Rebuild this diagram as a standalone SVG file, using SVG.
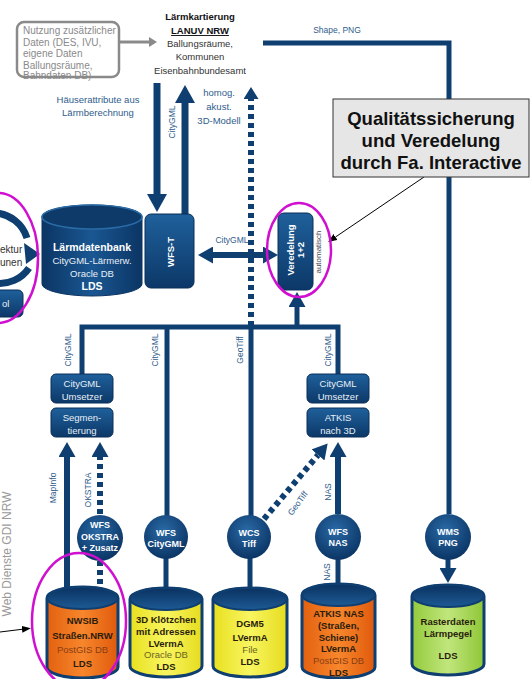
<svg xmlns="http://www.w3.org/2000/svg" width="531" height="679" viewBox="0 0 531 679">
<defs>
<style>
text{font-family:"Liberation Sans",Arial,sans-serif}
.c{stroke:#0f3e70;fill:none}
.w7{stroke-width:7}
.w6{stroke-width:6}
.w5{stroke-width:5}
.dot{stroke-dasharray:5 4}
.lbl{fill:#2f5d8c;font-size:8.5px}
.blu{fill:#2f5d8c;font-size:9.5px}
.wb{fill:#fff;font-weight:bold}
.wn{fill:#e8eff7;font-size:9.5px}
.box{fill:url(#gBox);stroke:#0a2f58;stroke-width:1}
.circ{fill:url(#gCirc)}
.cyl{stroke:#0f3e70;stroke-width:3}
.cyltop{fill:url(#gTop);stroke:#0f3e70;stroke-width:2}
.mag{fill:none;stroke:#d010d0;stroke-width:2.5}
.dk{fill:#2a1c0c;font-weight:bold;font-size:9.5px}
.ct{font-size:9px}
</style>
<linearGradient id="gBox" x1="0" y1="0" x2="0" y2="1"><stop offset="0" stop-color="#1f609b"/><stop offset="1" stop-color="#0c3868"/></linearGradient>
<radialGradient id="gCirc" cx="0.45" cy="0.35" r="0.65"><stop offset="0" stop-color="#2a6aa6"/><stop offset="1" stop-color="#0b3565"/></radialGradient>
<linearGradient id="gCylB" x1="0" y1="0" x2="1" y2="0"><stop offset="0" stop-color="#0b3564"/><stop offset="0.5" stop-color="#1a5792"/><stop offset="1" stop-color="#0b3564"/></linearGradient>
<linearGradient id="gOr" x1="0" y1="0" x2="1" y2="0"><stop offset="0" stop-color="#e3610f"/><stop offset="0.5" stop-color="#f7862c"/><stop offset="1" stop-color="#e05a0c"/></linearGradient>
<linearGradient id="gYe" x1="0" y1="0" x2="1" y2="0"><stop offset="0" stop-color="#e8e020"/><stop offset="0.5" stop-color="#f8f560"/><stop offset="1" stop-color="#e6dc1e"/></linearGradient>
<linearGradient id="gGr" x1="0" y1="0" x2="1" y2="0"><stop offset="0" stop-color="#94cb3c"/><stop offset="0.5" stop-color="#c0e67c"/><stop offset="1" stop-color="#8fc637"/></linearGradient>
<linearGradient id="gTop" x1="0" y1="0" x2="0" y2="1"><stop offset="0" stop-color="#0a3160"/><stop offset="1" stop-color="#1d5b95"/></linearGradient>
<marker id="ahL" markerUnits="userSpaceOnUse" markerWidth="18" markerHeight="20" viewBox="0 0 18 20" refX="0" refY="10" orient="auto"><path d="M0,0 L18,10 L0,20 z" fill="#0f3e70"/></marker>
<marker id="ahS" markerUnits="userSpaceOnUse" markerWidth="15" markerHeight="17" viewBox="0 0 15 17" refX="0" refY="8.5" orient="auto-start-reverse"><path d="M0,0 L15,8.5 L0,17 z" fill="#0f3e70"/></marker>
<marker id="ahD" markerUnits="userSpaceOnUse" markerWidth="12" markerHeight="15" viewBox="0 0 12 15" refX="0" refY="7.5" orient="auto"><path d="M0,0 L12,7.5 L0,15 z" fill="#0f3e70"/></marker>
<marker id="ahB" markerUnits="userSpaceOnUse" markerWidth="9" markerHeight="7" viewBox="0 0 9 7" refX="0" refY="3.5" orient="auto"><path d="M0,0 L9,3.5 L0,7 z" fill="#000"/></marker>
<marker id="ahG" markerUnits="userSpaceOnUse" markerWidth="8" markerHeight="10" viewBox="0 0 8 10" refX="0" refY="5" orient="auto"><path d="M0,0 L8,5 L0,10 z" fill="#8a8a8a"/></marker>
</defs>
<rect width="531" height="679" fill="#fff"/>

<g id="connectors">
<line x1="119" y1="42" x2="149" y2="42" stroke="#8a8a8a" stroke-width="3" marker-end="url(#ahG)"/>
<line class="c w7" x1="157" y1="83" x2="157" y2="194" marker-end="url(#ahL)"/>
<line class="c w7" x1="185" y1="214" x2="185" y2="103" marker-end="url(#ahL)"/>
<line class="c w6 dot" x1="251" y1="326" x2="251" y2="99" marker-end="url(#ahD)"/>
<path class="c w5" d="M263,43 H449 V514"/>
<line class="c w6" x1="213" y1="255" x2="263" y2="255" marker-start="url(#ahS)" marker-end="url(#ahS)"/>
<path class="c w5" d="M82,374 V327 H338 V374"/>
<line class="c w5" x1="297" y1="327" x2="297" y2="307" marker-end="url(#ahS)"/>
<line class="c w5" x1="167" y1="327" x2="167" y2="516"/>
<line class="c w5" x1="251" y1="327" x2="251" y2="516"/>
<line class="c w6" x1="67" y1="592" x2="67" y2="457" marker-end="url(#ahS)"/>
<line class="c w6 dot" x1="100" y1="514" x2="100" y2="457" marker-end="url(#ahS)"/>
<line class="c w6 dot" x1="100" y1="561" x2="100" y2="592"/>
<line class="c w5" x1="166" y1="558" x2="166" y2="592"/>
<line class="c w5" x1="250" y1="558" x2="250" y2="592"/>
<line class="c w6" x1="338" y1="514" x2="338" y2="457" marker-end="url(#ahS)"/>
<line class="c w5" x1="338" y1="559" x2="338" y2="588"/>
<line class="c w6 dot" x1="264" y1="519" x2="318" y2="455" marker-end="url(#ahS)"/>
<line class="c w5" x1="448" y1="559" x2="448" y2="568" marker-end="url(#ahS)"/>
<line x1="424" y1="177" x2="335.5" y2="237" stroke="#000" stroke-width="1" marker-end="url(#ahB)"/>
<line x1="0" y1="632" x2="22" y2="629.3" stroke="#000" stroke-width="1" marker-end="url(#ahB)"/>
<text class="lbl" x="337" y="33" text-anchor="middle">Shape, PNG</text>
<text class="blu" x="98" y="103" text-anchor="middle">Häuserattribute aus</text>
<text class="blu" x="98" y="116" text-anchor="middle">Lärmberechnung</text>
<text class="blu" x="219" y="96" text-anchor="middle">homog.</text>
<text class="blu" x="219" y="110" text-anchor="middle">akust.</text>
<text class="blu" x="219" y="124" text-anchor="middle">3D-Modell</text>
<text class="lbl" text-anchor="middle" transform="translate(175,122) rotate(-90)">CityGML</text>
<text class="lbl" x="232" y="243" text-anchor="middle">CityGML</text>
<text class="lbl" text-anchor="middle" transform="translate(71,350) rotate(-90)">CityGML</text>
<text class="lbl" text-anchor="middle" transform="translate(158,350) rotate(-90)">CityGML</text>
<text class="lbl" text-anchor="middle" transform="translate(243,350) rotate(-90)">GeoTiff</text>
<text class="lbl" text-anchor="middle" transform="translate(331,350) rotate(-90)">CityGML</text>
<text class="lbl" text-anchor="middle" transform="translate(56,488) rotate(-90)">MapInfo</text>
<text class="lbl" text-anchor="middle" transform="translate(91,490) rotate(-90)">OKSTRA</text>
<text class="lbl" text-anchor="middle" transform="translate(331,492) rotate(-90)">NAS</text>
<text class="lbl" text-anchor="middle" transform="translate(330,572) rotate(-90)">NAS</text>
<text class="lbl" text-anchor="middle" transform="translate(300,505) rotate(-54)">GeoTiff</text>
</g>

<g id="side-label">
<text x="0" y="0" fill="#9a9a9a" font-size="12" text-anchor="middle" transform="translate(11,554) rotate(-90)">Web Dienste GDI NRW</text>
</g>

<g id="n-nutzung">
<text x="23" y="33.5" fill="#8a8a8a" font-size="10">Nutzung zusätzlicher</text>
<text x="23" y="45.5" fill="#8a8a8a" font-size="10">Daten (DES, IVU,</text>
<text x="23" y="56.5" fill="#8a8a8a" font-size="10">eigene Daten</text>
<text x="23" y="68.5" fill="#8a8a8a" font-size="10">Ballungsräume,</text>
<text x="23" y="79" fill="#8a8a8a" font-size="10">Bahndaten DB)</text>
<rect x="17" y="22" width="102" height="55" rx="7" fill="none" stroke="#8a8a8a" stroke-width="2.5"/>
</g>

<g id="n-laermkartierung" text-anchor="middle" font-size="9.5">
<text x="200" y="20" font-weight="bold" fill="#111">Lärmkartierung</text>
<text x="200" y="34" font-weight="bold" fill="#111" text-decoration="underline">LANUV NRW</text>
<text x="200" y="47" fill="#333">Ballungsräume,</text>
<text x="200" y="60" fill="#333">Kommunen</text>
<text x="200" y="74" fill="#333">Eisenbahnbundesamt</text>
</g>

<g id="n-callout">
<rect x="333" y="99" width="196" height="78" fill="#e6e6e6" stroke="#333" stroke-width="1"/>
<text x="431" y="125" text-anchor="middle" font-size="18.5" font-weight="bold" fill="#111">Qualitätssicherung</text>
<text x="431" y="147" text-anchor="middle" font-size="18.5" font-weight="bold" fill="#111">und Veredelung</text>
<text x="431" y="169" text-anchor="middle" font-size="18.5" font-weight="bold" fill="#111">durch Fa. Interactive</text>
</g>

<g id="n-kreis">
<path d="M-5,213 A35,35 0 0 1 27,238" fill="none" stroke="#0f3e70" stroke-width="7"/>
<path d="M29,268 A35,35 0 0 1 -5,283" fill="none" stroke="#0f3e70" stroke-width="7"/>
<polygon points="24,243 40,254 26,264" fill="#0f3e70"/>
<text x="0" y="253" fill="#333" font-size="10">ektur</text>
<text x="0" y="266" fill="#333" font-size="10">unen</text>
<rect x="-10" y="290" width="33" height="27" rx="5" class="box"/>
<text x="2" y="307" class="wn" font-size="10">ol</text>
</g>

<g id="n-laermdb">
<path d="M42,217 V284 A50,12 0 0 0 142,284 V217 A50,12 0 0 0 42,217 Z" fill="url(#gCylB)" stroke="#0c3463" stroke-width="1"/>
<ellipse cx="92" cy="217" rx="50" ry="12" fill="#0d3a69" stroke="#2a6aa5" stroke-width="1.5"/>
<text x="92" y="251" text-anchor="middle" class="wb" font-size="10.5">Lärmdatenbank</text>
<text x="92" y="264" text-anchor="middle" class="wn" font-size="10.5">CityGML-Lärmerw.</text>
<text x="92" y="277" text-anchor="middle" class="wn" font-size="10.5">Oracle DB</text>
<text x="92" y="290" text-anchor="middle" class="wb" font-size="10.5">LDS</text>
</g>

<g id="n-wfst">
<rect x="145" y="214" width="49" height="74" rx="6" class="box"/>
<text class="wb" font-size="9.5" text-anchor="middle" transform="translate(174,252) rotate(-90)">WFS-T</text>
</g>

<g id="n-veredelung">
<rect x="278" y="213" width="35" height="77" rx="6" class="box"/>
<text class="wb" font-size="9.5" text-anchor="middle" transform="translate(293.5,250) rotate(-90)">Veredelung</text>
<text class="wb" font-size="9.5" text-anchor="middle" transform="translate(304,250) rotate(-90)">1+2</text>
<text fill="#445" font-size="8" text-anchor="middle" transform="translate(321,252) rotate(-90)">automatisch</text>
</g>

<g id="n-umsetzer1">
<rect x="51" y="374" width="62" height="29" rx="5" class="box"/>
<text x="82" y="386.5" text-anchor="middle" class="wn">CityGML</text>
<text x="82" y="399.5" text-anchor="middle" class="wn">Umsetzer</text>
</g>
<g id="n-segmentierung">
<rect x="51" y="408" width="62" height="29" rx="5" class="box"/>
<text x="82" y="420.5" text-anchor="middle" class="wn">Segmen-</text>
<text x="82" y="433.5" text-anchor="middle" class="wn">tierung</text>
</g>
<g id="n-umsetzer2">
<rect x="307" y="374" width="62" height="29" rx="5" class="box"/>
<text x="338" y="386.5" text-anchor="middle" class="wn">CityGML</text>
<text x="338" y="399.5" text-anchor="middle" class="wn">Umsetzer</text>
</g>
<g id="n-atkis3d">
<rect x="307" y="408" width="62" height="29" rx="5" class="box"/>
<text x="338" y="420.5" text-anchor="middle" class="wn">ATKIS</text>
<text x="338" y="433.5" text-anchor="middle" class="wn">nach 3D</text>
</g>

<g id="n-wfs-okstra">
<circle cx="100" cy="538" r="23" class="circ"/>
<text x="100" y="528" text-anchor="middle" class="wb ct">WFS</text>
<text x="100" y="540" text-anchor="middle" class="wb ct">OKSTRA</text>
<text x="100" y="551" text-anchor="middle" class="wb ct">+ Zusatz</text>
</g>
<g id="n-wfs-citygml">
<circle cx="166" cy="537" r="22" class="circ"/>
<text x="166" y="536" text-anchor="middle" class="wb ct">WFS</text>
<text x="166" y="547" text-anchor="middle" class="wb ct">CityGML</text>
</g>
<g id="n-wcs">
<circle cx="249" cy="537" r="22" class="circ"/>
<text x="249" y="536" text-anchor="middle" class="wb ct">WCS</text>
<text x="249" y="547" text-anchor="middle" class="wb ct">Tiff</text>
</g>
<g id="n-wfs-nas">
<circle cx="338" cy="537" r="23" class="circ"/>
<text x="338" y="535" text-anchor="middle" class="wb ct">WFS</text>
<text x="338" y="546" text-anchor="middle" class="wb ct">NAS</text>
</g>
<g id="n-wms">
<circle cx="448" cy="537" r="23" class="circ"/>
<text x="448" y="535" text-anchor="middle" class="wb ct">WMS</text>
<text x="448" y="546" text-anchor="middle" class="wb ct">PNG</text>
</g>

<g id="n-nwsib" text-anchor="middle">
<path class="cyl" fill="url(#gOr)" d="M47,598 V667 A35.5,11 0 0 0 118,667 V598 A35.5,11 0 0 0 47,598 Z"/>
<ellipse class="cyltop" cx="82.5" cy="598" rx="35.5" ry="11"/>
<text x="82.5" y="624" class="dk">NWSIB</text>
<text x="82.5" y="639" class="dk">Straßen.NRW</text>
<text x="82.5" y="653" fill="#8a3d14" font-size="9.5">PostGIS DB</text>
<text x="82.5" y="667" class="dk">LDS</text>
</g>
<g id="n-klotz" text-anchor="middle">
<path class="cyl" fill="url(#gYe)" d="M130,599 V666 A36,11 0 0 0 202,666 V599 A36,11 0 0 0 130,599 Z"/>
<ellipse class="cyltop" cx="166" cy="599" rx="36" ry="11"/>
<text x="166" y="622.5" class="dk">3D Klötzchen</text>
<text x="166" y="634.5" class="dk">mit Adressen</text>
<text x="166" y="646.5" class="dk">LVermA</text>
<text x="166" y="657.5" fill="#6b6520" font-size="9.5">Oracle DB</text>
<text x="166" y="669.5" class="dk">LDS</text>
</g>
<g id="n-dgm5" text-anchor="middle">
<path class="cyl" fill="url(#gYe)" d="M213,599 V666 A37,11 0 0 0 287,666 V599 A37,11 0 0 0 213,599 Z"/>
<ellipse class="cyltop" cx="250" cy="599" rx="37" ry="11"/>
<text x="250" y="626.5" class="dk">DGM5</text>
<text x="250" y="640.5" class="dk">LVermA</text>
<text x="250" y="652.5" fill="#6b6520" font-size="9.5">File</text>
<text x="250" y="664.5" class="dk">LDS</text>
</g>
<g id="n-atkisnas" text-anchor="middle">
<path class="cyl" fill="url(#gOr)" d="M302,595 V667 A36.5,11 0 0 0 375,667 V595 A36.5,11 0 0 0 302,595 Z"/>
<ellipse class="cyltop" cx="338.5" cy="595" rx="36.5" ry="11"/>
<text x="338.5" y="616.5" class="dk">ATKIS NAS</text>
<text x="338.5" y="628.5" class="dk">(Straßen,</text>
<text x="338.5" y="640.5" class="dk">Schiene)</text>
<text x="338.5" y="651.5" class="dk">LVermA</text>
<text x="338.5" y="663.5" fill="#8a3d14" font-size="9.5">PostGIS DB</text>
<text x="338.5" y="675.5" class="dk">LDS</text>
</g>
<g id="n-raster" text-anchor="middle">
<path class="cyl" fill="url(#gGr)" d="M412,596 V664 A36,11 0 0 0 484,664 V596 A36,11 0 0 0 412,596 Z"/>
<ellipse class="cyltop" cx="448" cy="596" rx="36" ry="11"/>
<text x="448" y="624.5" class="dk">Rasterdaten</text>
<text x="448" y="636.5" class="dk">Lärmpegel</text>
<text x="448" y="658.5" class="dk">LDS</text>
</g>

<g id="highlights">
<ellipse class="mag" cx="-2" cy="258" rx="40" ry="65"/>
<ellipse class="mag" cx="299" cy="250" rx="32" ry="47"/>
<ellipse class="mag" cx="79" cy="621" rx="47" ry="68"/>
</g>
</svg>
